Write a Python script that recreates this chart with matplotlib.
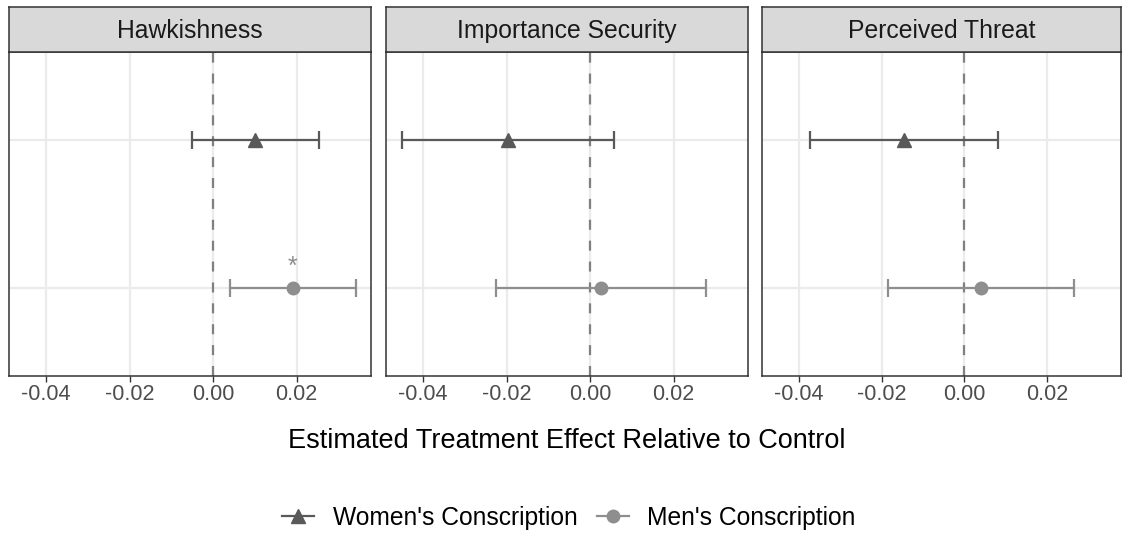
import numpy as np
import matplotlib
matplotlib.use("Agg")
import matplotlib.pyplot as plt
from matplotlib.lines import Line2D

plt.rcParams["font.family"] = ["Liberation Sans", "DejaVu Sans"]

# ---------- estimates (point, lower, upper) per outcome ----------
outcomes = ["Hawkishness", "Importance Security", "Perceived Threat"]
groups = ["Women's Conscription", "Men's Conscription"]

women_est = [0.0100, -0.0198, -0.0147]
women_lo = [-0.0051, -0.0450, -0.0374]
women_hi = [0.0254, 0.0056, 0.0080]

men_est = [0.0191, 0.0026, 0.0040]
men_lo = [0.0041, -0.0226, -0.0184]
men_hi = [0.0342, 0.0277, 0.0264]

# significance marks drawn above the men's estimate
men_sig = ["*", "", ""]

xticks = [-0.04, -0.02, 0.00, 0.02]
xlim = (-0.0489, 0.0378)

women_col = "#595959"
men_col = "#8e8e8e"
frame_col = "#333333"
grid_col = "#ebebeb"

fig = plt.figure(figsize=(11.23, 5.34), dpi=100)
W, H = 1123, 534

panels = [(9, 371), (386, 748), (762, 1121)]
top_px, bot_px, strip_top = 52, 376, 7

for i, (x0, x1) in enumerate(panels):
    ax = fig.add_axes([x0 / W, 1 - bot_px / H, (x1 - x0) / W, (bot_px - top_px) / H])
    ax.set_xlim(*xlim)
    ax.set_ylim(0.4, 2.6)

    for xv in xticks:
        ax.axvline(xv, color=grid_col, lw=1.6, zorder=0)
    for yv in [1, 2]:
        ax.axhline(yv, color=grid_col, lw=1.6, zorder=0)

    ax.axvline(0, color="#808080", lw=1.6, ls=(0, (4.5, 4.9)), zorder=1)

    ax.errorbar(women_est[i], 2,
                xerr=[[women_est[i] - women_lo[i]], [women_hi[i] - women_est[i]]],
                fmt="^", color=women_col, ms=10, lw=1.6, capsize=6.5,
                capthick=1.6, zorder=3)
    ax.errorbar(men_est[i], 1,
                xerr=[[men_est[i] - men_lo[i]], [men_hi[i] - men_est[i]]],
                fmt="o", color=men_col, ms=9, lw=1.6, capsize=6.5,
                capthick=1.6, zorder=3)
    if men_sig[i]:
        ax.text(men_est[i], 1.06, men_sig[i], color=men_col, fontsize=18,
                ha="center", va="bottom")

    ax.set_xticks(xticks)
    ax.set_xticklabels([f"{v:.2f}" for v in xticks], fontsize=15.5, color="#4d4d4d")
    ax.tick_params(axis="x", length=4, width=1, color=frame_col, pad=2)
    ax.set_yticks([])
    for sp in ax.spines.values():
        sp.set_color(frame_col)
        sp.set_linewidth(1.1)

    # facet strip
    sax = fig.add_axes([x0 / W, 1 - top_px / H, (x1 - x0) / W, (top_px - strip_top) / H])
    sax.set_facecolor("#d9d9d9")
    sax.set_xticks([])
    sax.set_yticks([])
    for sp in sax.spines.values():
        sp.set_color(frame_col)
        sp.set_linewidth(1.1)
    sax.text(0.5, 0.47, outcomes[i], ha="center", va="center",
             fontsize=17.8, color="#1a1a1a", transform=sax.transAxes)

fig.text(567 / W, 1 - 441 / H, "Estimated Treatment Effect Relative to Control",
         ha="center", va="center", fontsize=19.5)

handles = [
    Line2D([], [], color=women_col, marker="^", ms=10, lw=1.6),
    Line2D([], [], color=men_col, marker="o", ms=9, lw=1.6),
]
fig.legend(handles, groups, loc="center", bbox_to_anchor=(569 / W, 1 - 518 / H),
           ncol=2, frameon=False, fontsize=17.7, handlelength=1.3,
           handletextpad=0.75, columnspacing=0.8)

fig.savefig("out.png", dpi=100)
